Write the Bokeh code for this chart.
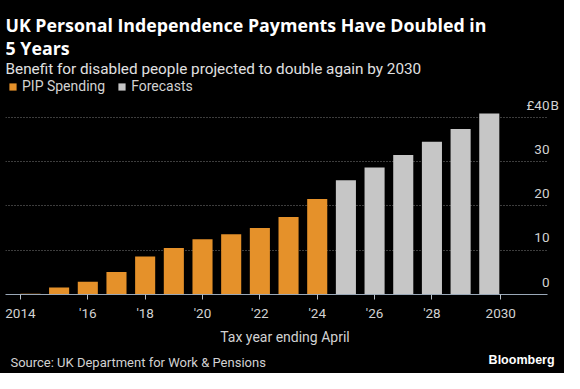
from bokeh.plotting import figure
from bokeh.layouts import column
from bokeh.models import Range1d, FixedTicker, Grid, Label, Legend, LegendItem
from bokeh.embed import file_html
from bokeh.resources import INLINE

# ---------------- data ----------------
actual_years = [2014, 2015, 2016, 2017, 2018, 2019, 2020, 2021, 2022, 2023, 2024]
actual_values = [0.15, 1.6, 2.9, 5.1, 8.6, 10.5, 12.5, 13.6, 15.0, 17.5, 21.6]
forecast_years = [2025, 2026, 2027, 2028, 2029, 2030]
forecast_values = [25.8, 28.7, 31.5, 34.5, 37.4, 40.9]
x_tick_positions = [2013.65, 2016, 2018, 2020, 2022, 2024, 2026, 2028, 2030.4]
x_tick_labels = ["2014", "'16", "'18", "'20", "'22", "'24", "'26", "'28", "2030"]
y_grid_ticks = [10, 20, 30, 40]
y_label_ticks = [0, 10, 20, 30, 40]
y_label_texts = ["0", "10", "20", "30", "£40"]
y_unit_suffix = "B"

# ---------------- style / layout ----------------
BG = "#000000"
ORANGE = "#e5912a"
GREY = "#c6c6c6"
TXT = "#d2d2d2"
FONT = "Roboto"

W = 564
MAIN_H = 350          # page y 8 .. 358
FOOT_H = 23           # page y 358 .. 381
X_START, X_AXIS_END = 2013.13, 2032.03
FRAME_L, AXIS_R, FRAME_R, FRAME_B, FRAME_T = 13, 555, 572, 302, 8   # page px
PX_PER_YEAR = (AXIS_R - FRAME_L) / (X_AXIS_END - X_START)
X_END = X_START + (FRAME_R - FRAME_L) / PX_PER_YEAR
PX_PER_UNIT = 4.427
Y_START = 0
Y_END = (FRAME_B - FRAME_T) / PX_PER_UNIT


def dy(page_y):
    return Y_START + (FRAME_B - page_y) / PX_PER_UNIT


p = figure(width=W, height=MAIN_H, title=None,
           x_range=Range1d(X_START, X_END), y_range=Range1d(Y_START, Y_END),
           output_backend="svg", toolbar_location=None, y_axis_location=None,
           min_border_left=FRAME_L - 8, min_border_right=0,
           min_border_top=0, min_border_bottom=MAIN_H - (FRAME_B - 8),
           background_fill_color=BG, border_fill_color=BG, outline_line_color=None)

# remove default grids (they exist even without a visible axis)
p.grid.grid_line_color = None
p.grid.visible = False

grid = Grid(dimension=1, ticker=FixedTicker(ticks=y_grid_ticks),
            cross_bounds=(X_START, X_AXIS_END),
            grid_line_color="#7a7a7a", grid_line_dash="1 2", grid_line_width=1)
p.add_layout(grid)

r1 = p.vbar(x=actual_years, top=actual_values, width=0.7,
            fill_color=ORANGE, line_color=None)
r2 = p.vbar(x=forecast_years, top=forecast_values, width=0.7,
            fill_color=GREY, line_color=None)

# x axis
xa = p.xaxis[0]
xa.bounds = (X_START, X_AXIS_END)
xa.ticker = FixedTicker(ticks=x_tick_positions)
xa.major_label_overrides = dict(zip(x_tick_positions, x_tick_labels))
xa.axis_line_color = "#9aa8b8"
xa.major_tick_line_color = "#b8c0c8"
xa.minor_tick_line_color = None
xa.major_tick_in = 0
xa.major_tick_out = 5
xa.major_label_standoff = 5
xa.major_label_text_font = FONT
xa.major_label_text_font_size = "13.5px"
xa.major_label_text_color = TXT
xa.axis_label = "Tax year ending April"
xa.axis_label_text_font = FONT
xa.axis_label_text_font_size = "14px"
xa.axis_label_text_font_style = "normal"
xa.axis_label_text_color = TXT
xa.axis_label_standoff = 5

# y labels (above gridlines, right side)
for yv, txt in zip(y_label_ticks, y_label_texts):
    p.add_layout(Label(x=X_AXIS_END, y=yv, text=txt, x_offset=2, y_offset=12.5,
                       text_align="right", text_baseline="middle",
                       text_font=FONT, text_font_size="13.5px", text_color=TXT))
p.add_layout(Label(x=X_AXIS_END, y=y_label_ticks[-1], text=y_unit_suffix, x_offset=3,
                   y_offset=12.5, text_align="left", text_baseline="middle",
                   text_font=FONT, text_font_size="13.5px", text_color=TXT))

# legend (inside frame area, above the bars)
legend = Legend(items=[LegendItem(label="PIP Spending", renderers=[r1]),
                       LegendItem(label="Forecasts", renderers=[r2])],
                orientation="horizontal", location=(0, FRAME_B - 105),
                background_fill_alpha=0, border_line_alpha=0,
                label_text_color=TXT, label_text_font=FONT, label_text_font_size="14px",
                glyph_width=9, glyph_height=9, label_standoff=5, spacing=12,
                padding=3, margin=0, label_height=14)
p.add_layout(legend)

# titles
p.add_layout(Label(x=X_START, y=dy(32), text="UK Personal Independence Payments Have Doubled in",
                   text_font="Open Sans", text_font_style="bold", text_font_size="17.8px",
                   text_color="#ffffff", text_baseline="middle"))
p.add_layout(Label(x=X_START, y=dy(55.3), text="5 Years",
                   text_font="Open Sans", text_font_style="bold", text_font_size="17.8px",
                   text_color="#ffffff", text_baseline="middle"))
p.add_layout(Label(x=X_START, y=dy(76),
                   text="Benefit for disabled people projected to double again by 2030",
                   text_font=FONT, text_font_size="15.3px", text_color="#e0e0e0",
                   text_baseline="middle"))

# footer strip (page coordinates)
foot = figure(width=W, height=FOOT_H, title=None,
              x_range=Range1d(8, 8 + W), y_range=Range1d(381, 381 - FOOT_H),
              output_backend="svg", toolbar_location=None,
              x_axis_location=None, y_axis_location=None,
              min_border_left=0, min_border_right=0, min_border_top=0, min_border_bottom=0,
              background_fill_color=BG, border_fill_color=BG, outline_line_color=None)
foot.grid.grid_line_color = None
foot.grid.visible = False
foot.add_layout(Label(x=13, y=369.5, text="Source: UK Department for Work & Pensions",
                      text_font=FONT, text_font_size="13px", text_color=TXT,
                      text_baseline="middle"))
foot.add_layout(Label(x=562, y=367.5, text="Bloomberg",
                      text_font="Liberation Sans", text_font_style="bold",
                      text_font_size="12.5px", text_color="#ffffff",
                      text_baseline="middle", text_align="right"))

layout = column(p, foot, spacing=0, styles={"background-color": BG})
open("out.html", "w").write(file_html(layout, INLINE))
